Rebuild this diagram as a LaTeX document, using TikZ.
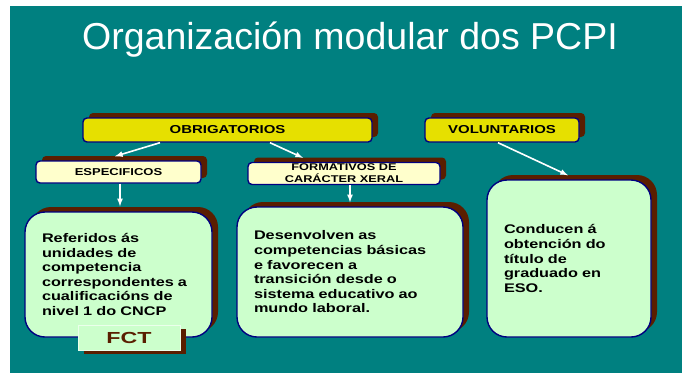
\documentclass[tikz,border=0pt]{standalone}
\usepackage{fontspec}
\setmainfont{Liberation Sans}
\newfontfamily\boxfont[FakeStretch=1.3]{Liberation Sans}
\newfontfamily\fctfont[FakeStretch=1.45]{Liberation Sans}
\usetikzlibrary{shadows}
\definecolor{slideteal}{HTML}{008080}
\definecolor{tagyellow}{HTML}{E6E000}
\definecolor{tagcream}{HTML}{FFFFCC}
\definecolor{boxgreen}{HTML}{CCFFCC}
\definecolor{boxnavy}{HTML}{000080}
\definecolor{shadowbrown}{HTML}{5A1E00}
\tikzset{
  brownshadow/.style={drop shadow={shadow xshift=6pt,shadow yshift=5pt,opacity=1,fill=shadowbrown}},
  tagbox/.style={draw=boxnavy,line width=1.4pt,rounded corners=4pt,brownshadow,inner sep=0pt,align=center,
    font=\boxfont\bfseries\fontsize{11.5}{12}\selectfont},
  textbox/.style={draw=boxnavy,fill=boxgreen,line width=1.4pt,rounded corners=20pt,brownshadow,
    inner xsep=17pt,inner ysep=0pt,align=left,font=\boxfont\bfseries\fontsize{12.5}{14.6}\selectfont},
  whitearrow/.style={draw=white,line width=1.6pt,-latex}
}
\begin{document}
\begin{tikzpicture}[x=1pt,y=-1pt]
  \useasboundingbox (0,0) rectangle (682,373);
  % fondo
  \fill[white] (0,0) rectangle (682,373);
  \fill[slideteal] (10,6) rectangle (682,373);
  % titulo
  \node[text=white,font=\fontsize{37.5}{40}\selectfont,anchor=base] (title) at (350,49) {Organización modular dos PCPI};
  % modulos
  \node[tagbox,fill=tagyellow,minimum width=289pt,minimum height=24pt] (obrig) at (227.5,130) {OBRIGATORIOS};
  \node[tagbox,fill=tagyellow,minimum width=154pt,minimum height=24pt] (volunt) at (502,130) {VOLUNTARIOS};
  \node[tagbox,fill=tagcream,minimum width=165pt,minimum height=22pt,
    font=\boxfont\bfseries\fontsize{10}{12}\selectfont] (espec) at (118.5,172) {ESPECIFICOS};
  \node[tagbox,fill=tagcream,minimum width=192pt,minimum height=22pt,
    font=\boxfont\bfseries\fontsize{9.8}{12}\selectfont] (format) at (344,173.5) {FORMATIVOS DE\\CARÁCTER XERAL};
  % caixas de texto
  \node[textbox,text width=153pt,minimum height=125pt] (refer) at (118.5,274.5)
    {Referidos ás\\unidades de\\competencia\\correspondentes a\\cualificacións de\\nivel 1 do CNCP};
  \node[textbox,text width=192pt,minimum height=130pt] (desen) at (350,272)
    {Desenvolven as\\competencias básicas\\e favorecen a\\transición desde o\\sistema educativo ao\\mundo laboral.};
  \node[textbox,text width=130pt,minimum height=157pt] (condu) at (569,258.5)
    {Conducen á\\obtención do\\título de\\graduado en\\ESO.};
  % FCT
  \node[draw=white!60!boxgreen,fill=boxgreen,line width=0.6pt,inner sep=0pt,
    drop shadow={shadow xshift=6pt,shadow yshift=-4pt,opacity=1,fill=shadowbrown},
    minimum width=102pt,minimum height=25pt,text=shadowbrown,
    font=\fctfont\bfseries\fontsize{16}{16}\selectfont] (fct) at (129,337.5) {FCT};
  % frechas
  \draw[whitearrow] ([xshift=-67.5pt]obrig.south) -- ([xshift=-3.5pt,yshift=4pt]espec.north);
  \draw[whitearrow] ([xshift=42.5pt]obrig.south) -- ([xshift=-41pt,yshift=4pt]format.north);
  \draw[whitearrow] ([xshift=-4pt]volunt.south) -- ([xshift=-1pt,yshift=4pt]condu.north);
  \draw[whitearrow] ([xshift=1.5pt]espec.south) -- ([xshift=1.5pt,yshift=5pt]refer.north);
  \draw[whitearrow] ([xshift=6pt]format.south) -- ([yshift=4pt]desen.north);
\end{tikzpicture}
\end{document}
